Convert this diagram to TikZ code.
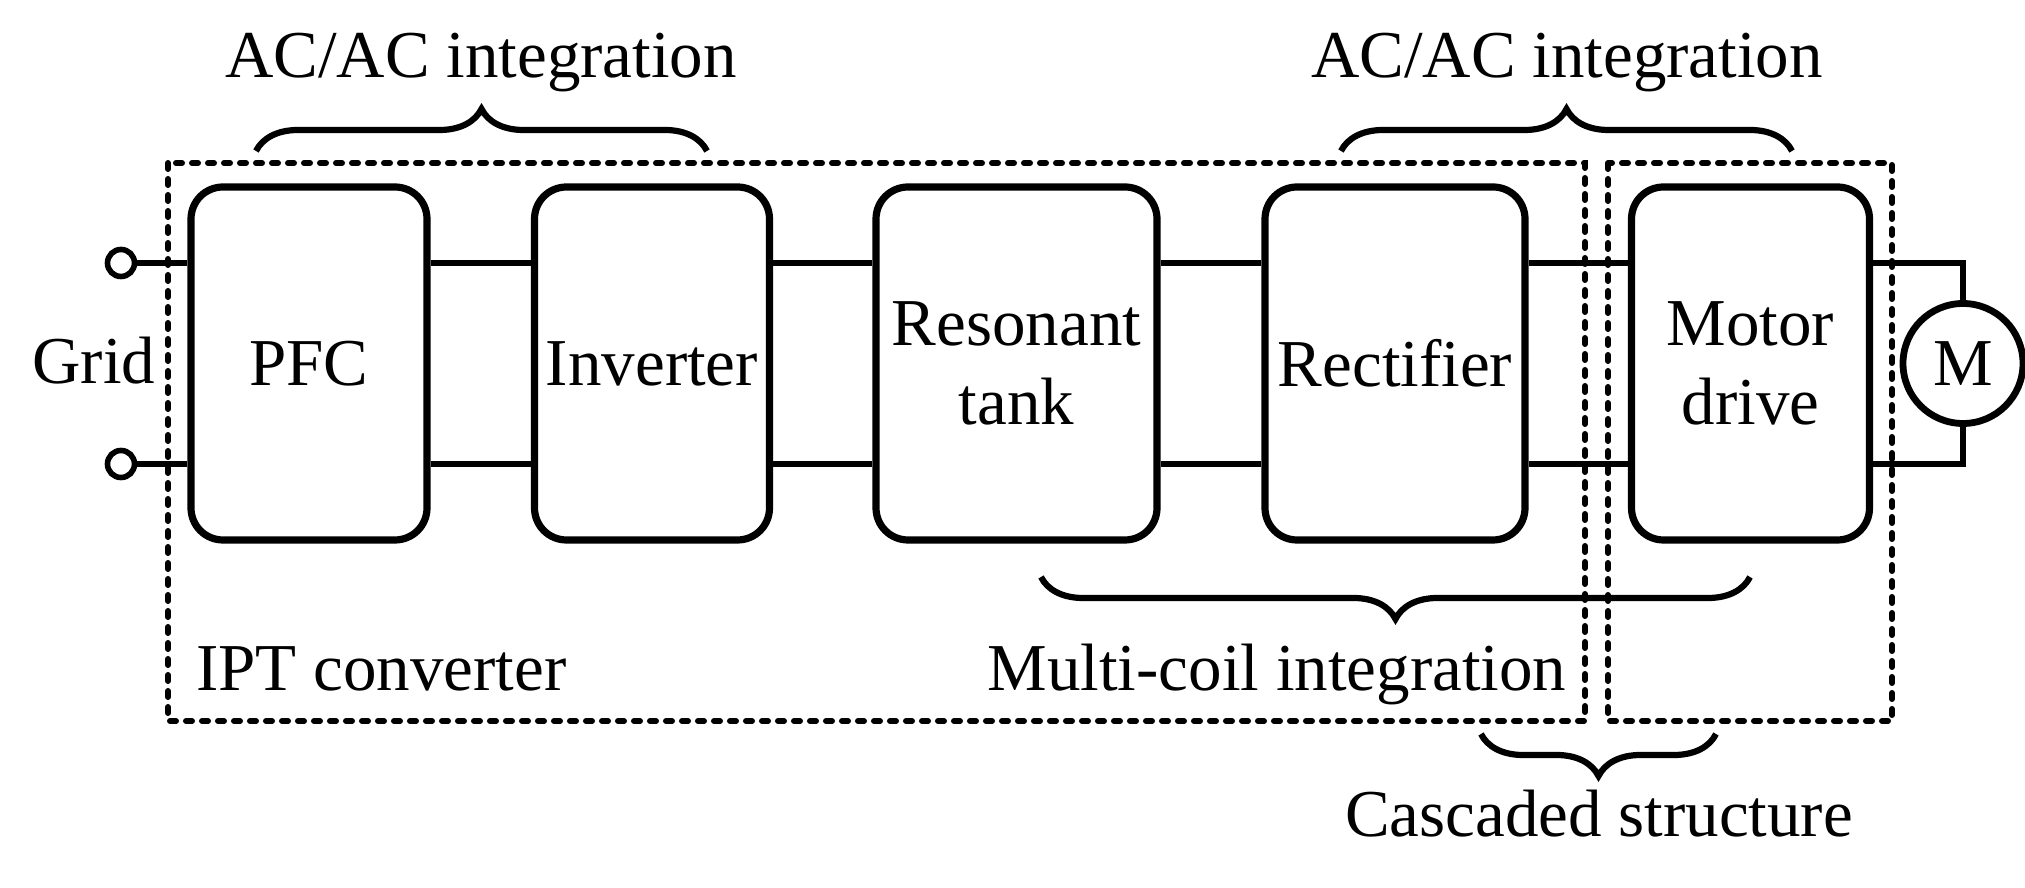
\documentclass[tikz,border=0pt]{standalone}
\usepackage{fontspec}
\setmainfont{Liberation Serif}
\usetikzlibrary{decorations.pathreplacing}
\begin{document}
\begin{tikzpicture}[x=0.5pt,y=0.5pt,
  blk/.style={draw, line width=3.6pt, rounded corners=16pt, minimum height=176.5pt, inner sep=0pt, align=center, font=\fontsize{33.5}{39.5}\selectfont},
  wire/.style={line width=3.1pt},
  term/.style={circle, draw, line width=2.8pt, minimum size=13.5pt, inner sep=0pt},
  dbox/.style={line width=3pt, dash pattern=on 3pt off 5pt, line cap=round},
  brc/.style={decorate, decoration={brace, amplitude=21pt}, line width=3.1pt},
  lbl/.style={font=\fontsize{33.5}{39.5}\selectfont, inner sep=0pt}]
\useasboundingbox (0,0) rectangle (2025,888);
% blocks
\node[blk, minimum width=118pt] (pfc) at (309,524.5) {PFC};
\node[blk, minimum width=117.5pt] (inv) at (652,524.5) {Inverter};
\node[blk, minimum width=140.5pt] (res) at (1016.5,524.5) {Resonant\\tank};
\node[blk, minimum width=130pt] (rec) at (1395,524.5) {Rectifier};
\node[blk, minimum width=119pt] (md) at (1750.5,524.5) {Motor\\drive};
\node[circle, draw, line width=3.4pt, minimum size=60pt, inner sep=0pt, font=\fontsize{33.5}{39.5}\selectfont] (mot) at (1963,524.5) {M};
% terminals
\node[term] (t1) at (121,625) {};
\node[term] (t2) at (121,424) {};
\node[lbl, anchor=base] (grid) at (94,504) {Grid};
% wires
\draw[wire] (t1.east) -- (pfc.west |- t1);
\draw[wire] (t2.east) -- (pfc.west |- t2);
\foreach \a/\b in {pfc/inv, inv/res, res/rec, rec/md}{
  \draw[wire] ([yshift=50.25pt]\a.east) -- ([yshift=50.25pt]\b.west);
  \draw[wire] ([yshift=-50.25pt]\a.east) -- ([yshift=-50.25pt]\b.west);
}
\draw[wire] ([yshift=50.25pt]md.east) -| (mot.north);
\draw[wire] ([yshift=-50.25pt]md.east) -| (mot.south);
% dashed boxes
\draw[dbox] (168,725) rectangle (1585,167);
\draw[dbox] (1608,725) rectangle (1892,167);
% braces
\coordinate (b1a) at (256,737); \coordinate (b1b) at (707,737);
\draw[brc] (b1a) -- (b1b);
\node[lbl, anchor=base] (ac1) at (481,810) {AC/AC integration};
\coordinate (b2a) at (1341,737); \coordinate (b2b) at (1792,737);
\draw[brc] (b2a) -- (b2b);
\node[lbl, anchor=base] (ac2) at (1567,810) {AC/AC integration};
\coordinate (b3a) at (1750,311); \coordinate (b3b) at (1041,311);
\draw[brc] (b3a) -- (b3b);
\node[lbl, anchor=base] (mc) at (1277,197) {Multi-coil integration};
\node[lbl, anchor=base west] (ipt) at (196,197) {IPT converter};
\coordinate (b4a) at (1716,154); \coordinate (b4b) at (1481,154);
\draw[brc] (b4a) -- (b4b);
\node[lbl, anchor=base] (cs) at (1599,51) {Cascaded structure};
\end{tikzpicture}
\end{document}
